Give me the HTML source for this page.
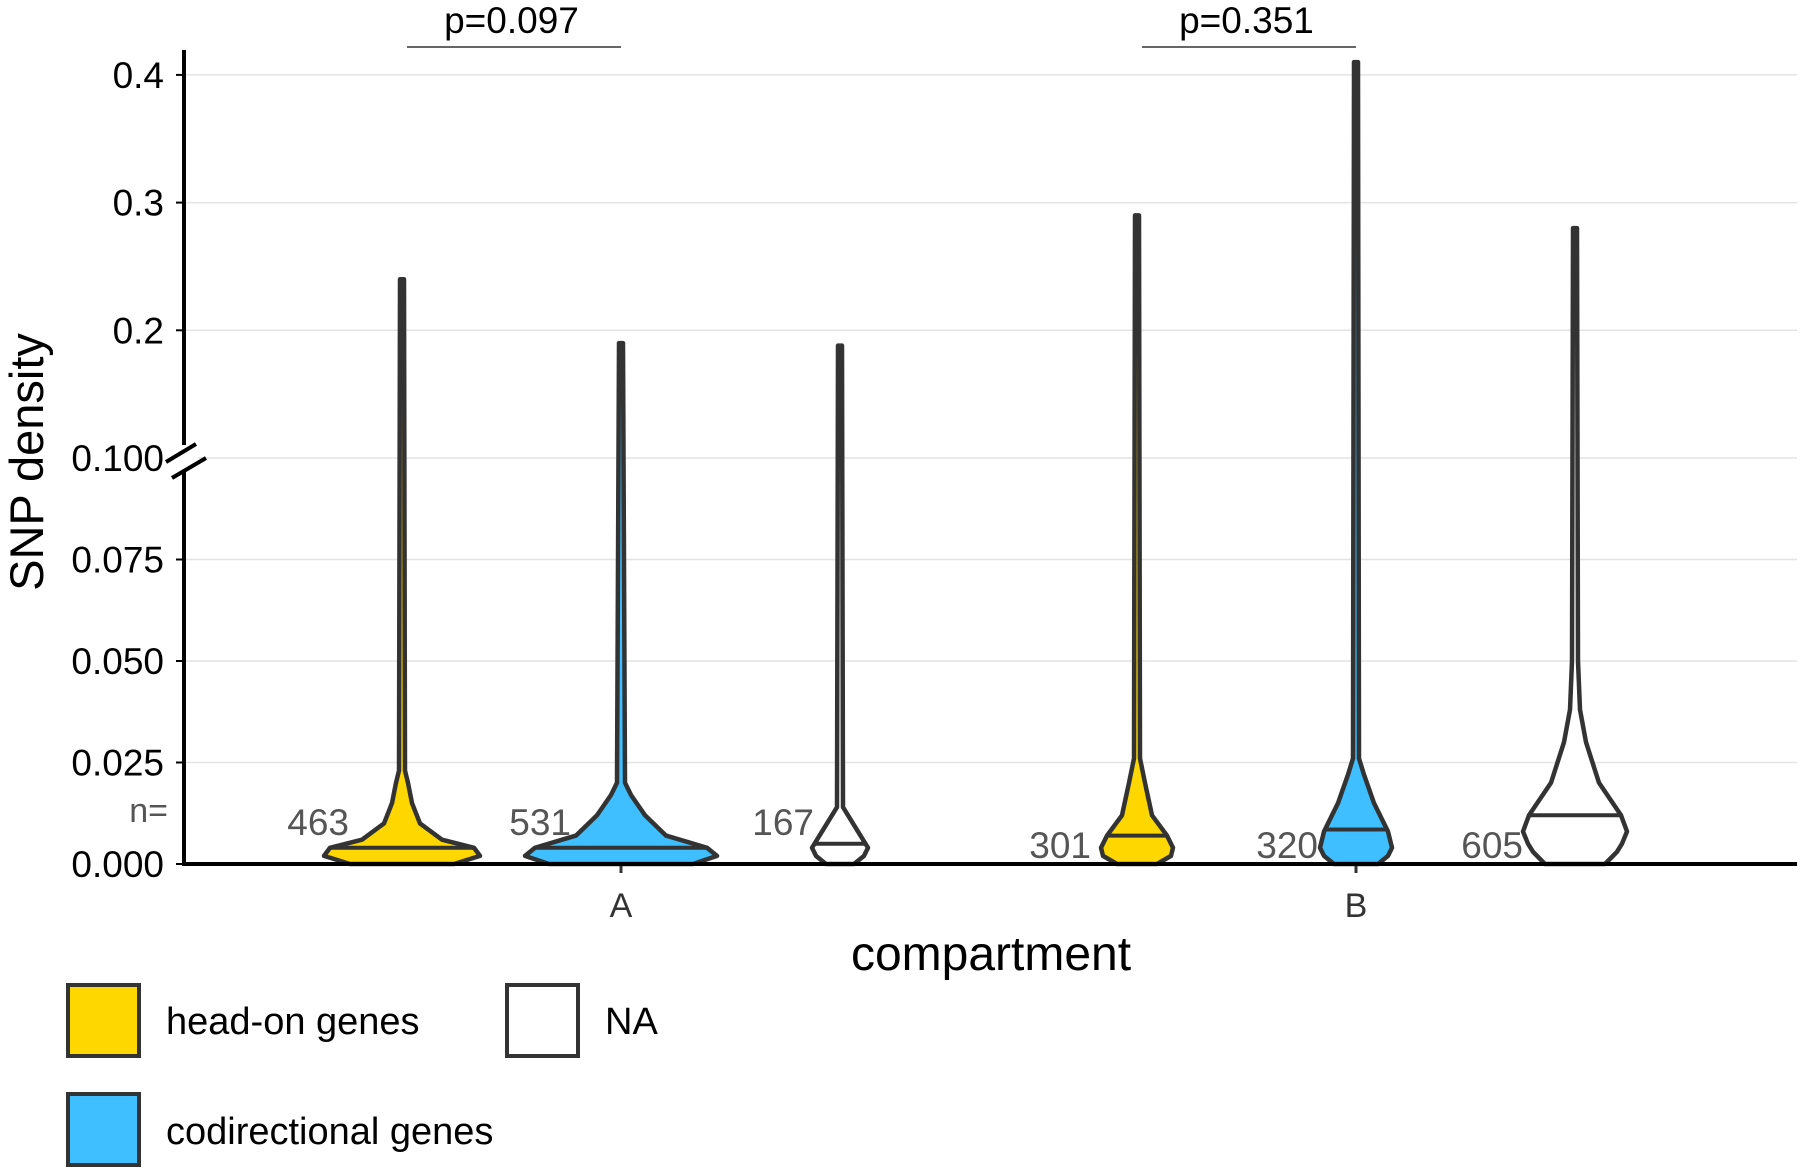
<!DOCTYPE html>
<html><head><meta charset="utf-8"><style>
html,body{margin:0;padding:0;background:#fff;}
svg{display:block;font-family:"Liberation Sans",Arial,sans-serif;}
</style></head><body>
<svg id="chart" width="1800" height="1172" viewBox="0 0 1800 1172">
<g id="grid"></g>
<g id="violins"></g>
<g id="axes"></g>
<g id="labels"></g>
</svg>
<script>
const categories = ["A","B"];
const groups = ["head-on genes","codirectional genes","NA"];
const groupColors = ["#FFD700","#3FBFFF","#FFFFFF"];
const yTicks = [0,0.025,0.05,0.075,0.1,0.2,0.3,0.4];
const yTickLabels = ["0.000","0.025","0.050","0.075","0.100","0.2","0.3","0.4"];
const nCounts = [[463,531,167],[301,320,605]];
const maxValues = [[0.24,0.19,0.188],[0.29,0.41,0.28]];
const medians = [[0.004,0.004,0.005],[0.007,0.0085,0.012]];
const profileLevels = [
 [[0,0.002,0.004,0.006,0.01,0.015,0.02,0.023],[0,0.002,0.004,0.007,0.012,0.017,0.02],[0,0.002,0.004,0.008,0.012,0.014]],
 [[0,0.002,0.004,0.007,0.012,0.02,0.026],[0,0.002,0.004,0.008,0.015,0.022,0.026],[0,0.003,0.005,0.008,0.012,0.02,0.03,0.038,0.05]]
];
const profileDensity = [
 [[52,78,72,40,18,10,6,3],[72,96,86,45,24,10,4],[14,24,28,18,8,3]],
 [[20,34,36,30,15,8,3],[22,32,36,32,18,8,3],[30,42,47,52,46,24,11,5,3]]
];
const pValues = ["p=0.097","p=0.351"];

const ns="http://www.w3.org/2000/svg";
function el(tag,attrs,parent){const e=document.createElementNS(ns,tag);for(const k in attrs)e.setAttribute(k,attrs[k]);parent.appendChild(e);return e;}
const X0=184, X1=1797, Y0=864;
function yScale(v){ if(v<=0.1) return Y0-(v/0.1)*406; return 458-(v-0.1)/0.1*127.7; }
const catX=[621,1356], dodge=219;
const nLabelGap=[[53,50,26],[46,38,52]];
function xScale(ci,gi){return catX[ci]+(gi-1)*dodge;}
const grid=document.getElementById('grid'),vg=document.getElementById('violins'),ax=document.getElementById('axes'),lb=document.getElementById('labels');
yTicks.forEach((t,i)=>{
 const y=yScale(t);
 if(t>0){const g=el('line',{x1:X0,x2:X1,y1:y,y2:y,stroke:'#e3e3e3','stroke-width':1.5},grid);
 
 }
 const tk=el('line',{x1:X0-8,x2:X0,y1:y,y2:y,stroke:'#000','stroke-width':2},ax);
 
 
 const tx=el('text',{x:X0-20,y:y+13,'text-anchor':'end','font-size':37,fill:'#000'},ax);
 tx.textContent=yTickLabels[i];
 
 
});
categories.forEach((c,ci)=>{
 groups.forEach((g,gi)=>{
  const cx=xScale(ci,gi), lv=profileLevels[ci][gi], dn=profileDensity[ci][gi];
  let right=[],left=[];
  lv.forEach((v,k)=>{right.push([cx+dn[k],yScale(v)]);left.unshift([cx-dn[k],yScale(v)]);});
  const top=yScale(maxValues[ci][gi]);
  right.push([cx+2,top]);left.unshift([cx-2,top]);
  const pts=right.concat(left).map(p=>p.join(',')).join(' ');
  const p=el('polygon',{points:pts,fill:groupColors[gi],stroke:'#333','stroke-width':4.5,'stroke-linejoin':'round'},vg);
  
  
  const my=yScale(medians[ci][gi]);
  const md=medians[ci][gi];
  let hw=dn[0];
  for(let k=1;k<lv.length;k++){if(md<=lv[k]){const f=(md-lv[k-1])/(lv[k]-lv[k-1]);hw=dn[k-1]+f*(dn[k]-dn[k-1]);break;}}
  const m=el('line',{x1:cx-hw,x2:cx+hw,y1:my,y2:my,stroke:'#333','stroke-width':4},vg);
  
  
  const n=el('text',{x:cx-nLabelGap[ci][gi],y:(ci==0?835:858),'text-anchor':'end','font-size':37,fill:'#555'},lb);
  n.textContent=nCounts[ci][gi];
  
  
 });
 const x1=xScale(ci,0), x2=xScale(ci,1);
 const br=el('line',{x1:x1+5,x2:x2,y1:47,y2:47,stroke:'#333','stroke-width':1.5},lb);
 
 
 const pt=el('text',{x:(x1+x2)/2,y:33,'text-anchor':'middle','font-size':37,fill:'#000'},lb);
 pt.textContent=pValues[ci];
 
 
 const xt=el('line',{x1:catX[ci],x2:catX[ci],y1:Y0,y2:Y0+9,stroke:'#333','stroke-width':3},ax);
 
 
 const xl=el('text',{x:catX[ci],y:917,'text-anchor':'middle','font-size':34,fill:'#333'},ax);
 xl.textContent=c;
 
 
});
</script>
<svg style="position:absolute;left:0;top:0" width="1800" height="1172">
<line x1="184" y1="50" x2="184" y2="866" stroke="#000" stroke-width="4"/>
<line x1="182" y1="864" x2="1797" y2="864" stroke="#000" stroke-width="4"/>
<rect x="170" y="445" width="28" height="26" fill="#fff"/>
<line x1="166" y1="462" x2="196" y2="444" stroke="#000" stroke-width="4"/>
<line x1="172" y1="478" x2="206" y2="458" stroke="#000" stroke-width="4"/>
<text x="168" y="822" text-anchor="end" font-size="34" fill="#555" font-family="Liberation Sans, sans-serif">n=</text>
<text transform="translate(43,462) rotate(-90)" text-anchor="middle" font-size="47" fill="#000" font-family="Liberation Sans, sans-serif">SNP density</text>
<text x="991" y="970" text-anchor="middle" font-size="48" fill="#000" font-family="Liberation Sans, sans-serif">compartment</text>
<g font-family="Liberation Sans, sans-serif" font-size="38">
<rect x="68" y="985" width="71" height="71" fill="#FFD700" stroke="#333" stroke-width="4"/>
<text x="166" y="1034">head-on genes</text>
<rect x="507" y="985" width="71" height="71" fill="#fff" stroke="#333" stroke-width="4"/>
<text x="605" y="1034">NA</text>
<rect x="68" y="1094" width="71" height="71" fill="#3FBFFF" stroke="#333" stroke-width="4"/>
<text x="166" y="1144">codirectional genes</text>
</g>
</svg>
</body></html>
